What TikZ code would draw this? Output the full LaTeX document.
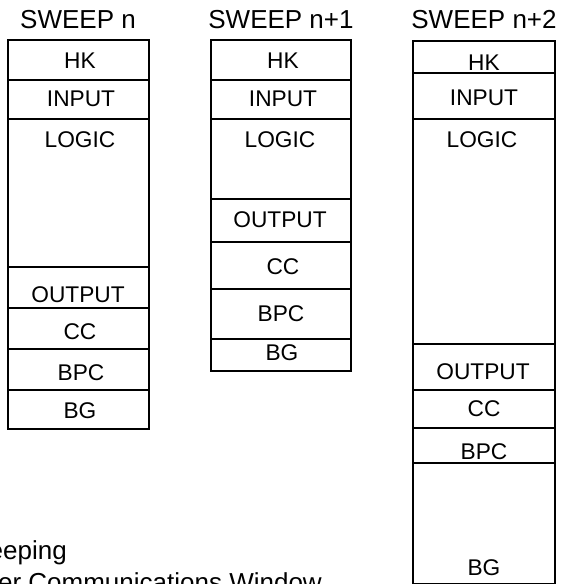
\documentclass[tikz,border=0pt]{standalone}
\usepackage{fontspec}
\setmainfont{Liberation Sans}
\begin{document}
\begin{tikzpicture}[
    x=1pt, y=-1pt,
    every node/.style={inner sep=0pt},
    frame/.style={line width=2pt},
    title/.style={font=\fontsize{26}{30}\selectfont, anchor=base},
    cell/.style={font=\fontsize{22.7}{26}\selectfont},
    note/.style={font=\fontsize{26}{30}\selectfont, anchor=base east}
]
    \useasboundingbox (0,0) rectangle (561,584);
    \clip (0,0) rectangle (561,584);

    % Sweep titles
    \node[title] (sweepA) at (78,28) {SWEEP n};
    \node[title] (sweepB) at (281,28) {SWEEP n+1};
    \node[title] (sweepC) at (484,28) {SWEEP n+2};

    % Sweep n
    \draw[frame] (7.5,40) rectangle (148.5,429);
    \draw[frame] (7.5,80) -- (148.5,80);
    \draw[frame] (7.5,119) -- (148.5,119);
    \draw[frame] (7.5,267) -- (148.5,267);
    \draw[frame] (7.5,308) -- (148.5,308);
    \draw[frame] (7.5,349) -- (148.5,349);
    \draw[frame] (7.5,390) -- (148.5,390);

    \node[cell] (hkA) at (80,61) {HK};
    \node[cell] (inputA) at (81,99) {INPUT};
    \node[cell] (logicA) at (80,140) {LOGIC};
    \node[cell] (outputA) at (78,295) {OUTPUT};
    \node[cell] (ccA) at (80,332) {CC};
    \node[cell] (bpcA) at (81,373) {BPC};
    \node[cell] (bgA) at (80,411) {BG};

    % Sweep n+1
    \draw[frame] (211,40) rectangle (351,371);
    \draw[frame] (210,80) -- (352,80);
    \draw[frame] (210,119) -- (352,119);
    \draw[frame] (210,199) -- (352,199);
    \draw[frame] (210,242) -- (352,242);
    \draw[frame] (210,289) -- (352,289);
    \draw[frame] (210,339) -- (352,339);

    \node[cell] (hkB) at (283,61) {HK};
    \node[cell] (inputB) at (283,99) {INPUT};
    \node[cell] (logicB) at (280,140) {LOGIC};
    \node[cell] (outputB) at (280,220) {OUTPUT};
    \node[cell] (ccB) at (283,267) {CC};
    \node[cell] (bpcB) at (281,314) {BPC};
    \node[cell] (bgB) at (282,353) {BG};

    % Sweep n+2
    \draw[frame] (413,41) rectangle (555,584);
    \draw[frame] (413,73) -- (555,73);
    \draw[frame] (413,119) -- (555,119);
    \draw[frame] (413,344) -- (555,344);
    \draw[frame] (413,390) -- (555,390);
    \draw[frame] (413,428) -- (555,428);
    \draw[frame] (413,463) -- (555,463);

    \node[cell] (hkC) at (484,63) {HK};
    \node[cell] (inputC) at (484,98) {INPUT};
    \node[cell] (logicC) at (482,140) {LOGIC};
    \node[cell] (outputC) at (483,372) {OUTPUT};
    \node[cell] (ccC) at (484,409) {CC};
    \node[cell] (bpcC) at (484,452) {BPC};
    \node[cell] (bgC) at (484,568) {BG};

    % Legend (cut off at the edges)
    \node[note] (hkNote) at (67,559) {eeping};
    \node[note] (ccwNote) at (322,591) {er Communications Window};

\end{tikzpicture}
\end{document}
